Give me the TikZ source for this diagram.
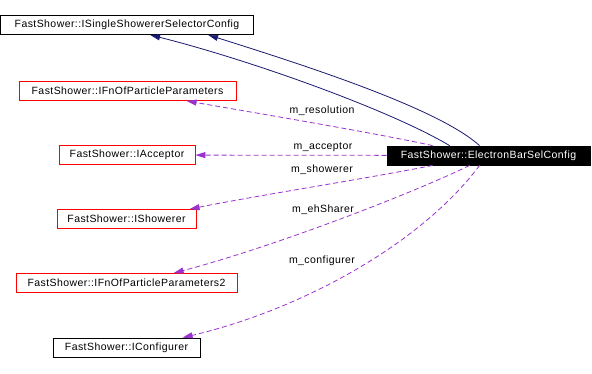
\documentclass[tikz,border=0pt]{standalone}
\usepackage{fontspec}
\setmainfont{Liberation Sans}
\newfontfamily\dotfont[LetterSpace=4]{Liberation Sans}
\usetikzlibrary{arrows.meta}
\definecolor{edgenavy}{HTML}{191970}
\definecolor{edgeviolet}{HTML}{9A32CD}

\begin{document}
\begin{tikzpicture}[x=1pt,y=-1pt,
    cls/.style={draw,thick,minimum height=19pt,inner sep=0pt,font=\dotfont\fontsize{10.5}{12}\selectfont},
    redcls/.style={cls,draw=red},
    inherit/.style={edgenavy,line width=0.8pt,-{Triangle[length=10pt,width=6pt]}},
    usage/.style={edgeviolet,line width=0.8pt,dash pattern=on 5pt off 3pt,-{Triangle[length=10pt,width=6pt]}},
    lbl/.style={font=\dotfont\fontsize{10.5}{12}\selectfont,inner sep=1pt}]
    \useasboundingbox (0,0) rectangle (592,373);

    \node[cls,minimum width=253pt] (single) at (127,25) {FastShower::ISingleShowererSelectorConfig};
    \node[redcls,minimum width=217pt] (fnof) at (127.5,91) {FastShower::IFnOfParticleParameters};
    \node[redcls,minimum width=136pt] (acceptor) at (127,155) {FastShower::IAcceptor};
    \node[redcls,minimum width=139pt] (showerer) at (126.5,219) {FastShower::IShowerer};
    \node[redcls,minimum width=221pt] (fnoftwo) at (126.5,283) {FastShower::IFnOfParticleParameters2};
    \node[cls,minimum width=147pt] (configurer) at (126.5,347.5) {FastShower::IConfigurer};
    \node[cls,fill=black,text=white,minimum width=203pt] (electron) at (488.5,155.5) {FastShower::ElectronBarSelConfig};

    % inheritance
    \draw[inherit] ([xshift=63pt]electron.north west) .. controls (390,110) and (250,60) .. ([xshift=150pt]single.south west);
    \draw[inherit] ([xshift=93pt]electron.north west) .. controls (440,110) and (320,70) .. ([xshift=208pt]single.south west);

    % members
    \draw[usage] ([xshift=46pt]electron.north west) .. controls (370,132) and (250,112) .. ([xshift=168pt]fnof.south west);
    \draw[usage] (electron) -- (acceptor);
    \draw[usage] ([xshift=46pt]electron.south west) .. controls (370,178) and (260,195) .. ([xshift=133pt]showerer.north west);
    \draw[usage] ([xshift=83pt]electron.south west) .. controls (420,190) and (280,245) .. ([xshift=158pt]fnoftwo.north west);
    \draw[usage] ([xshift=93pt]electron.south west) .. controls (420,245) and (300,310) .. ([xshift=130pt]configurer.north west);

    \node[lbl] (lresolution) at (322,111) {m\_resolution};
    \node[lbl] (lacceptor) at (323,147) {m\_acceptor};
    \node[lbl] (lshowerer) at (322,170) {m\_showerer};
    \node[lbl] (lehsharer) at (323,210) {m\_ehSharer};
    \node[lbl] (lconfigurer) at (322,261) {m\_configurer};
\end{tikzpicture}
\end{document}
